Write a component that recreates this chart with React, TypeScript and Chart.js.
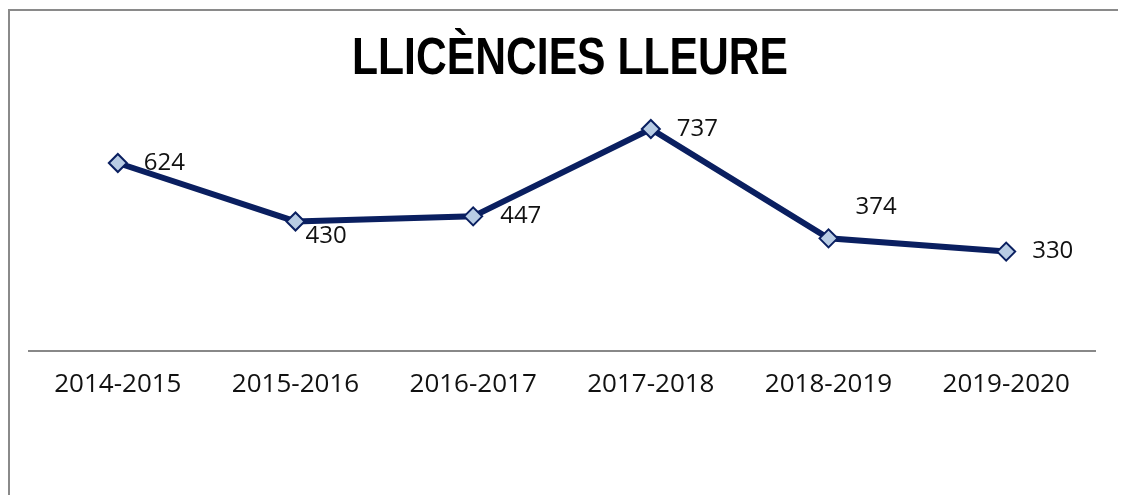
import React, { useEffect, useRef } from "react";
import { Chart, registerables } from "chart.js";

Chart.register(...registerables);

const categories = ["2014-2015", "2015-2016", "2016-2017", "2017-2018", "2018-2019", "2019-2020"];
const licencies = [624, 430, 447, 737, 374, 330];
const titleText = "LLICÈNCIES LLEURE";
// label placement offsets (dx, dy) relative to each point
const labelOffsets: [number, number][] = [[26, 0], [10, 15], [27, 0], [26, 0], [27, -31], [26, 0]];

const NAVY = "#0a1f60";

const frameTitleLabels = {
  id: "frameTitleLabels",
  afterDatasetsDraw(chart: any) {
    const ctx = chart.ctx;
    ctx.save();
    // chart frame (left and top edges visible)
    ctx.strokeStyle = "#8a8a8a";
    ctx.lineWidth = 2;
    ctx.beginPath();
    ctx.moveTo(1, chart.height);
    ctx.lineTo(1, 2);
    ctx.lineTo(chart.width, 2);
    ctx.stroke();

    // title in a condensed bold face
    ctx.font = "bold 51px 'Liberation Sans', Arial, sans-serif";
    ctx.fillStyle = "#000";
    ctx.textAlign = "left";
    ctx.textBaseline = "alphabetic";
    const w = ctx.measureText(titleText).width;
    const targetW = 436;
    const sx = targetW / w;
    ctx.save();
    ctx.translate(562 - targetW / 2, 66);
    ctx.scale(sx, 1);
    ctx.fillText(titleText, 0, 0);
    ctx.restore();

    // data labels
    const meta = chart.getDatasetMeta(0);
    ctx.fillStyle = "#111";
    ctx.font = "24px 'Open Sans'";
    ctx.textAlign = "left";
    ctx.textBaseline = "middle";
    meta.data.forEach((pt: any, i: number) => {
      const [dx, dy] = labelOffsets[i];
      ctx.fillText(String(licencies[i]), pt.x + dx, pt.y + dy);
    });
    ctx.restore();
  },
};

export default function App() {
  const ref = useRef<HTMLCanvasElement | null>(null);
  useEffect(() => {
    document.documentElement.style.overflow = "hidden";
    document.body.style.overflow = "hidden";
    const chart = new Chart(ref.current!, {
      type: "line",
      data: {
        labels: categories,
        datasets: [
          {
            label: "Llicències lleure",
            data: licencies,
            borderColor: NAVY,
            borderWidth: 6,
            pointStyle: "rectRot",
            pointRadius: 9,
            pointBackgroundColor: "#b8cce4",
            pointBorderColor: NAVY,
            pointBorderWidth: 2,
            tension: 0,
          },
        ],
      },
      options: {
        animation: false,
        responsive: false,
        layout: { padding: { left: 21, right: 31, top: 102, bottom: 0 } },
        plugins: {
          legend: { display: false },
          tooltip: { enabled: false },
          title: { display: false },
        },
        scales: {
          x: {
            offset: true,
            grid: { display: false, drawTicks: false },
            border: { display: true, color: "#888", width: 2 },
            ticks: { color: "#111", font: { family: "'Open Sans'", size: 26 }, padding: 18, maxRotation: 0 },
            afterFit: (s: any) => { s.height = 144; },
          },
          y: {
            min: 0,
            max: 800,
            display: false,
          },
        },
      },
      plugins: [frameTitleLabels],
    });
    return () => chart.destroy();
  }, []);
  return (
    <div style={{ width: 1118, height: 487 }}>
      <canvas ref={ref} width={1118} height={487} style={{ display: "block" }} />
    </div>
  );
}
